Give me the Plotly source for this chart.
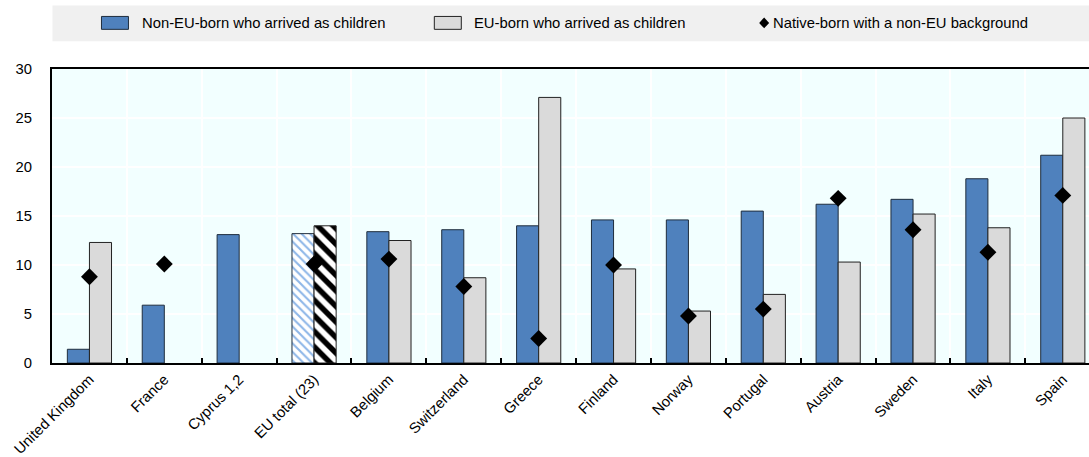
import plotly.graph_objects as go

categories = ["United Kingdom", "France", "Cyprus 1,2", "EU total (23)", "Belgium",
              "Switzerland", "Greece", "Finland", "Norway", "Portugal", "Austria",
              "Sweden", "Italy", "Spain"]
non_eu_children = [1.4, 5.9, 13.1, 13.2, 13.4, 13.6, 14.0, 14.6, 14.6, 15.5, 16.2, 16.7, 18.8, 21.2]
eu_children = [12.3, None, None, 14.0, 12.5, 8.7, 27.1, 9.6, 5.3, 7.0, 10.3, 15.2, 13.8, 25.0]
native_non_eu = [8.8, 10.1, None, 10.1, 10.6, 7.8, 2.5, 10.0, 4.8, 5.5, 16.8, 13.6, 11.3, 17.1]
y_ticks = [0, 5, 10, 15, 20, 25, 30]
series_names = ["Non-EU-born who arrived as children",
                "EU-born who arrived as children",
                "Native-born with a non-EU background"]

BLUE = "#4F81BD"
GRAY = "#DADADA"
HATCH_BLUE = "#8DB6E8"
hl = "EU total (23)"


def split(values):
    """Split a series into the regular countries and the highlighted EU total."""
    regular = [None if c == hl else v for c, v in zip(categories, values)]
    highlight = [v if c == hl else None for c, v in zip(categories, values)]
    return regular, highlight


non_eu_reg, non_eu_hl = split(non_eu_children)
eu_reg, eu_hl = split(eu_children)

fig = go.Figure()
fig.add_trace(go.Bar(
    x=categories, y=non_eu_reg, name=series_names[0], showlegend=False, offsetgroup="a",
    marker=dict(color=BLUE, line=dict(color="#1F2D3D", width=1)),
))
fig.add_trace(go.Bar(
    x=categories, y=eu_reg, name=series_names[1], showlegend=False, offsetgroup="b",
    marker=dict(color=GRAY, line=dict(color="#222222", width=1)),
))
fig.add_trace(go.Bar(
    x=categories, y=non_eu_hl, name=series_names[0] + " (EU total)", showlegend=False,
    offsetgroup="a",
    marker=dict(color="white", line=dict(color="#1F2D3D", width=1),
                pattern=dict(shape="\\", fgcolor=HATCH_BLUE, bgcolor="white", fgopacity=1,
                             size=6, solidity=0.35, fillmode="overlay")),
))
fig.add_trace(go.Bar(
    x=categories, y=eu_hl, name=series_names[1] + " (EU total)", showlegend=False,
    offsetgroup="b",
    marker=dict(color="white", line=dict(color="#222222", width=1),
                pattern=dict(shape="\\", fgcolor="black", bgcolor="white", fgopacity=1,
                             size=11, solidity=0.5, fillmode="overlay")),
))
fig.add_trace(go.Scatter(
    x=categories, y=native_non_eu, name=series_names[2], showlegend=False,
    mode="markers", marker=dict(symbol="diamond", size=13, color="black"),
))

W, H = 1089, 457
ml, mr, mt, mb = 51.5, 0, 69, 91.5
pw = W - ml - mr
ph = H - mt - mb


def px_(X):
    return (X - ml) / pw


def py(Y):
    return (H - mb - Y) / ph


shapes = [
    dict(type="rect", xref="paper", yref="paper", x0=px_(52), x1=1,
         y0=py(41), y1=py(5), fillcolor="#F0F0F0", line=dict(width=0), layer="below"),
    dict(type="rect", xref="paper", yref="paper", x0=px_(101), x1=px_(128),
         y0=py(29), y1=py(16), fillcolor=BLUE, line=dict(color="#1F2D3D", width=1)),
    dict(type="rect", xref="paper", yref="paper", x0=px_(434), x1=px_(461),
         y0=py(29), y1=py(16), fillcolor=GRAY, line=dict(color="#222222", width=1)),
    dict(type="path", xref="paper", yref="paper",
         path=f"M {px_(764)} {py(17)} L {px_(769)} {py(22.5)} L {px_(764)} {py(28)} "
              f"L {px_(759)} {py(22.5)} Z",
         fillcolor="black", line=dict(width=0)),
]

annotations = [
    dict(text=series_names[0], x=px_(140), y=py(22.5)),
    dict(text=series_names[1], x=px_(472), y=py(22.5)),
    dict(text=series_names[2], x=px_(771), y=py(22.5)),
]
for a in annotations:
    a.update(xref="paper", yref="paper", xanchor="left", yanchor="middle",
             showarrow=False, font=dict(size=14.8, color="black"))

fig.update_layout(
    width=W, height=H,
    margin=dict(l=ml, r=mr, t=mt, b=mb),
    paper_bgcolor="white", plot_bgcolor="#F2FFFF",
    font=dict(family="Arial, Liberation Sans, sans-serif", size=14.8, color="black"),
    barmode="group", bargap=0.41, bargroupgap=0,
    showlegend=False,
    shapes=shapes, annotations=annotations,
    xaxis=dict(range=[-0.5, 13.35], tickangle=-45, tickson="boundaries",
               ticks="inside", ticklen=5, tickcolor="black", tickwidth=1.5,
               showgrid=True, gridcolor="white", gridwidth=1.5,
               showline=True, linecolor="black", linewidth=2, mirror=True,
               tickfont=dict(size=14.8)),
    yaxis=dict(range=[0, 30], tickvals=y_ticks, ticks="outside", ticklen=15,
               tickcolor="rgba(0,0,0,0)", showgrid=True, gridcolor="white", gridwidth=1.5,
               showline=True, linecolor="black", linewidth=2, zeroline=False,
               tickfont=dict(size=14.8)),
)

fig.write_html("out.html", config={"displayModeBar": False},
               post_script="document.body.style.margin='0';")
